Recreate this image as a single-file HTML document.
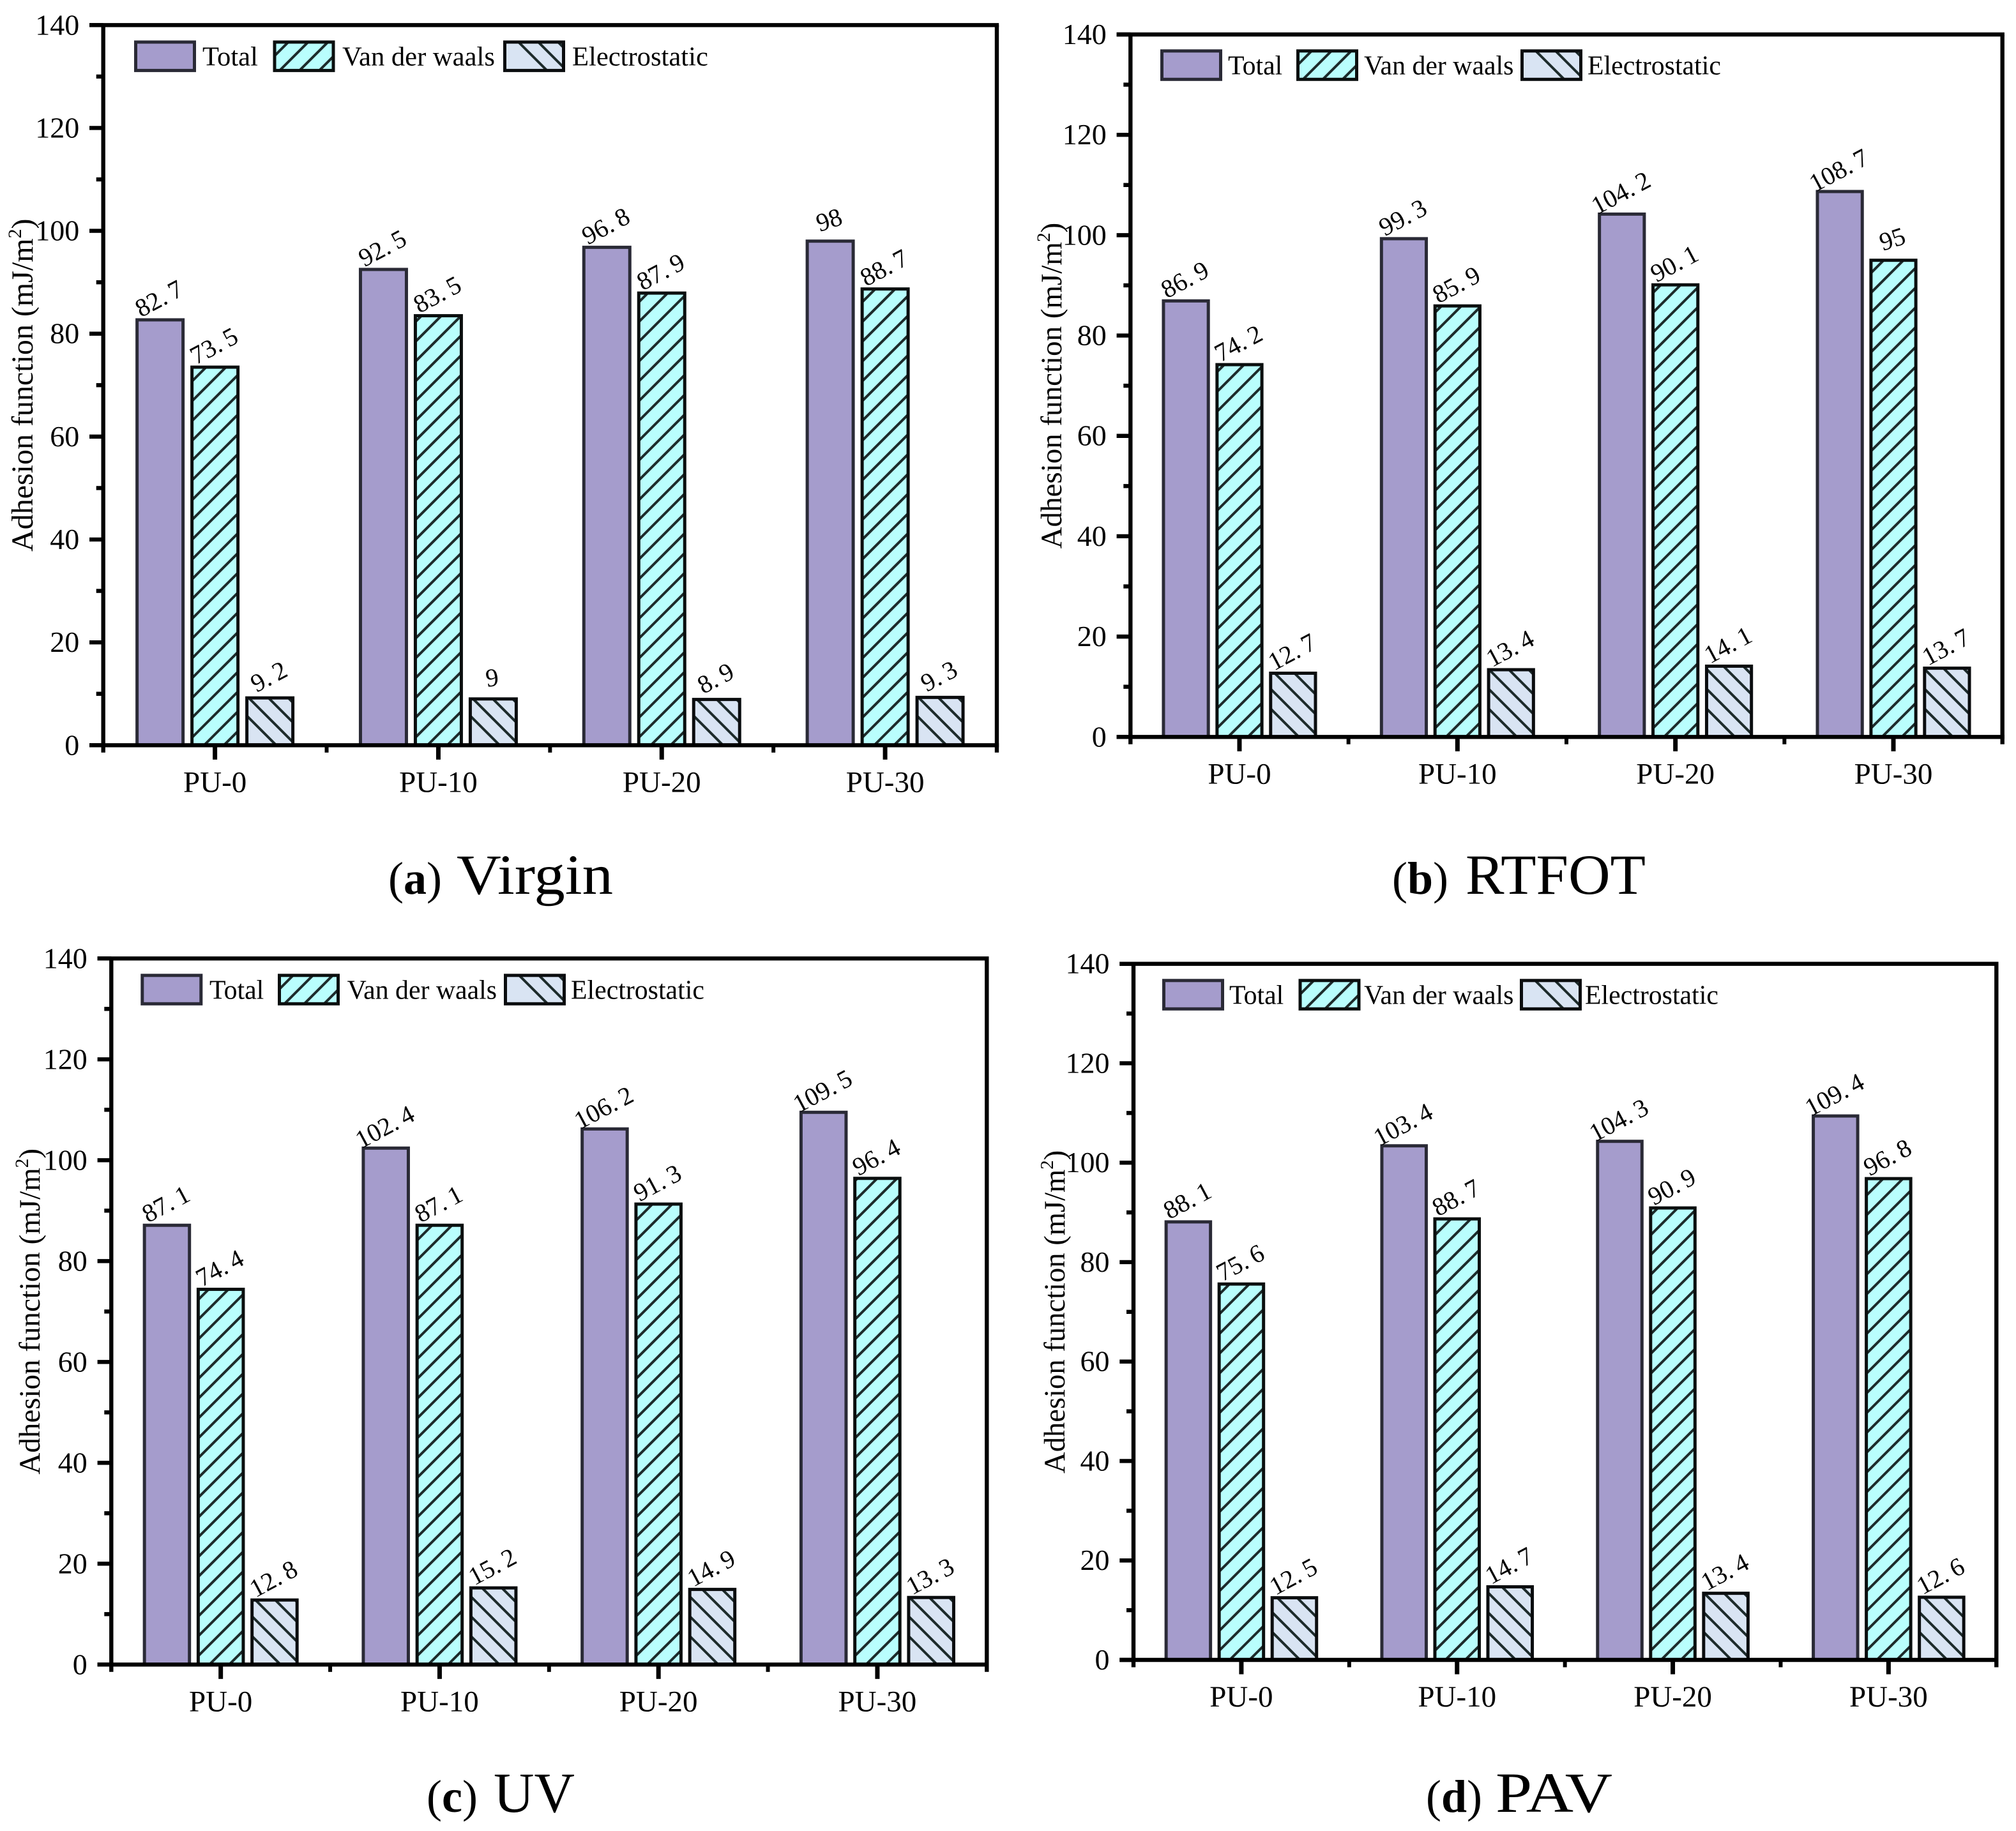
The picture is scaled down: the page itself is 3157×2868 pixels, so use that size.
<!DOCTYPE html>
<html lang="en">
<head>
<meta charset="utf-8">
<title>Adhesion function of PU modified asphalt</title>
<style>
html,body{margin:0;padding:0;background:#fff;}
svg{display:block;}
text{font-family:"Liberation Serif",serif;fill:#000;}
</style>
</head>
<body>
<svg id="figure" xmlns="http://www.w3.org/2000/svg" width="3157" height="2868" viewBox="0 0 3157 2868">
<rect x="0" y="0" width="3157" height="2868" fill="#ffffff"/>
</svg>
<script>
const categories = ["PU-0", "PU-10", "PU-20", "PU-30"];
const seriesNames = ["Total", "Van der waals", "Electrostatic"];
const yMajorTicks = [0, 20, 40, 60, 80, 100, 120, 140];
const yMinorTicks = [10, 30, 50, 70, 90, 110, 130];
const yMax = 140;

const virginTotal = [82.7, 92.5, 96.8, 98];
const virginVdw = [73.5, 83.5, 87.9, 88.7];
const virginElectro = [9.2, 9, 8.9, 9.3];

const rtfotTotal = [86.9, 99.3, 104.2, 108.7];
const rtfotVdw = [74.2, 85.9, 90.1, 95];
const rtfotElectro = [12.7, 13.4, 14.1, 13.7];

const uvTotal = [87.1, 102.4, 106.2, 109.5];
const uvVdw = [74.4, 87.1, 91.3, 96.4];
const uvElectro = [12.8, 15.2, 14.9, 13.3];

const pavTotal = [88.1, 103.4, 104.3, 109.4];
const pavVdw = [75.6, 88.7, 90.9, 96.8];
const pavElectro = [12.5, 14.7, 13.4, 12.6];

const NS = "http://www.w3.org/2000/svg";
const root = document.getElementById("figure");
let clipCounter = 0;

const panels = [
  {key: "virgin", letter: "a", label: "Virgin", total: virginTotal, vdw: virginVdw, electro: virginElectro,
   x0: 161.7, x1: 1561, yTop: 39.3, yBottom: 1167.3,
   swatchX: [210, 427.5, 788], textX: [317, 536, 896], swatchY: 63.4, titleX: 51, titleSize: 48, legendSize: 42.6,
   capX: 608, capLabelX: 715, capLabelW: 245, capY: 1400},
  {key: "rtfot", letter: "b", label: "RTFOT", total: rtfotTotal, vdw: rtfotVdw, electro: rtfotElectro,
   x0: 1770.3, x1: 3135.7, yTop: 54, yBottom: 1154.3,
   swatchX: [1817, 2030, 2381], textX: [1923, 2136, 2486], swatchY: 77.3, titleX: 1662, titleSize: 47, legendSize: 41.8,
   capX: 2180, capLabelX: 2295, capLabelW: 282, capY: 1400},
  {key: "uv", letter: "c", label: "UV", total: uvTotal, vdw: uvVdw, electro: uvElectro,
   x0: 174.3, x1: 1545.3, yTop: 1501.3, yBottom: 2607.3,
   swatchX: [220.3, 435, 789], textX: [328, 543.6, 894], swatchY: 1525.3, titleX: 62, titleSize: 47, legendSize: 41.8,
   capX: 668, capLabelX: 773, capLabelW: 127, capY: 2838},
  {key: "pav", letter: "d", label: "PAV", total: pavTotal, vdw: pavVdw, electro: pavElectro,
   x0: 1775, x1: 3126.3, yTop: 1509.7, yBottom: 2600,
   swatchX: [1820, 2033.5, 2380], textX: [1925, 2136, 2482], swatchY: 1533.3, titleX: 1667, titleSize: 46.6, legendSize: 41.8,
   capX: 2233, capLabelX: 2342, capLabelW: 183, capY: 2838}
];

function svgEl(tag, parent, props) {
  const el = document.createElementNS(NS, tag);
  for (const k in props) el.setAttribute(k, props[k]);
  parent.appendChild(el);
  return el;
}

function hatchLines(group, left, top, right, bottom, kind) {
  const clipId = "hatch-clip-" + (clipCounter++);
  const defs = svgEl("clipPath", group, {id: clipId});
  svgEl("rect", defs, {x: left, y: top, width: right - left, height: bottom - top});
  const lines = svgEl("g", group, {"clip-path": "url(#" + clipId + ")", stroke: "#1d2b2b", "stroke-width": 4, fill: "none"});
  const spacing = 31;
  const steps = Math.ceil(((bottom - top) + (right - left)) / spacing) + 2;
  for (let k = -1; k < steps; k++) {
    if (kind === "vdw") {
      const c = right + bottom - 22 - spacing * k;
      svgEl("line", lines, {x1: left, y1: c - left, x2: right, y2: c - right});
    } else {
      const d = bottom - 5 - spacing * k - right;
      svgEl("line", lines, {x1: left, y1: left + d, x2: right, y2: right + d});
    }
  }
}

const seriesStyle = {
  total: {fill: "#a59ccc", stroke: "#2a2a36"},
  vdw: {fill: "#b9fefd", stroke: "#0b0f0f"},
  electro: {fill: "#d9e4f3", stroke: "#0b0d0f"}
};

function drawBox(group, left, top, right, bottom, kind) {
  const st = seriesStyle[kind];
  svgEl("rect", group, {x: left, y: top, width: right - left, height: bottom - top, fill: st.fill});
  if (kind !== "total") hatchLines(group, left, top, right, bottom, kind);
  svgEl("rect", group, {x: left, y: top, width: right - left, height: bottom - top, fill: "none", stroke: st.stroke, "stroke-width": 5});
}

function drawPanel(p) {
  const g = svgEl("g", root, {});
  
  

  const band = (p.x1 - p.x0) / categories.length;
  const xCenter = i => p.x0 + band * (i + 0.5);
  const yPos = v => p.yBottom - (v / yMax) * (p.yBottom - p.yTop);
  const barWidth = band * 0.2058;
  const barStep = band * 0.2458;

  const seriesList = [
    {kind: "total", values: p.total, off: -1},
    {kind: "vdw", values: p.vdw, off: 0},
    {kind: "electro", values: p.electro, off: 1}
  ];

  seriesList.forEach(s => {
    s.values.forEach((v, i) => {
      const cx = xCenter(i) + s.off * barStep;
      const bar = svgEl("g", g, {});
      
      
      drawBox(bar, cx - barWidth / 2, yPos(v), cx + barWidth / 2, p.yBottom, s.kind);

      const str = String(v);
      const parts = str.split(".");
      const rot = parts.length > 1 ? -28 : (str.length > 1 ? -18 : -8);
      const label = svgEl("text", g, {
        "text-anchor": "middle", "font-size": 40,
        transform: "translate(" + (cx - 2) + " " + (yPos(v) - 34) + ") rotate(" + rot + ")",
        y: 14
      });
      
      
      if (parts.length > 1) {
        label.appendChild(document.createTextNode(parts[0] + "."));
        const frac = svgEl("tspan", label, {dx: 8});
        frac.textContent = parts[1];
      } else {
        label.textContent = str;
      }
    });
  });

  // frame
  const frame = svgEl("g", g, {stroke: "#000", "stroke-width": 6.4, fill: "none"});
  
  
  svgEl("line", frame, {x1: p.x0 - 21.7, y1: p.yTop, x2: p.x1 + 3.2, y2: p.yTop});
  svgEl("line", frame, {x1: p.x0 - 21.7, y1: p.yBottom, x2: p.x1 + 3.2, y2: p.yBottom});
  svgEl("line", frame, {x1: p.x0, y1: p.yTop, x2: p.x0, y2: p.yBottom + 11.5});
  svgEl("line", frame, {x1: p.x1, y1: p.yTop, x2: p.x1, y2: p.yBottom + 11.5});

  // y ticks
  yMajorTicks.forEach(t => {
    const y = yPos(t);
    const tick = svgEl("line", g, {x1: p.x0 - 21.7, y1: y, x2: p.x0, y2: y, stroke: "#000", "stroke-width": 6.4});
    
    
    const lab = svgEl("text", g, {x: p.x0 - 37.5, y: y + 15, "text-anchor": "end", "font-size": 46});
    
    
    lab.textContent = t;
  });
  yMinorTicks.forEach(t => {
    const y = yPos(t);
    const tick = svgEl("line", g, {x1: p.x0 - 11, y1: y, x2: p.x0, y2: y, stroke: "#000", "stroke-width": 6.4});
    
    
  });

  // x ticks and labels
  categories.forEach((c, i) => {
    const x = xCenter(i);
    const tick = svgEl("line", g, {x1: x, y1: p.yBottom, x2: x, y2: p.yBottom + 22.5, stroke: "#000", "stroke-width": 7});
    
    
    if (i > 0) {
      const minor = svgEl("line", g, {x1: p.x0 + band * i, y1: p.yBottom, x2: p.x0 + band * i, y2: p.yBottom + 11.5, stroke: "#000", "stroke-width": 6});
      
      
    }
    const lab = svgEl("text", g, {x: x, y: p.yBottom + 73, "text-anchor": "middle", "font-size": 47});
    
    
    lab.textContent = c;
  });

  // y axis title
  const title = svgEl("text", g, {
    "text-anchor": "middle", "font-size": p.titleSize,
    transform: "translate(" + p.titleX + " " + ((p.yTop + p.yBottom) / 2) + ") rotate(-90)"
  });
  
  
  title.appendChild(document.createTextNode("Adhesion function (mJ/m"));
  const sup = svgEl("tspan", title, {dy: -18, "font-size": p.titleSize * 0.62});
  sup.textContent = "2";
  const close = svgEl("tspan", title, {dy: 18});
  close.textContent = ")";

  // legend
  const legendKinds = ["total", "vdw", "electro"];
  const legend = svgEl("g", g, {});
  
  
  legendKinds.forEach((k, i) => {
    const left = p.swatchX[i] + 2.5;
    const top = p.swatchY + 2.5;
    const sw = svgEl("g", legend, {});
    
    
    drawBox(sw, left, top, left + 92, top + 44.5, k);
    const txt = svgEl("text", legend, {x: p.textX[i], y: p.swatchY + 39, "font-size": p.legendSize});
    
    
    txt.textContent = seriesNames[i];
  });

  // caption
  const cap = svgEl("g", g, {});
  
  
  const capLetter = svgEl("text", cap, {x: p.capX, y: p.capY, "font-size": 72});
  
  
  capLetter.appendChild(document.createTextNode("("));
  const bold = svgEl("tspan", capLetter, {"font-weight": "bold"});
  bold.textContent = p.letter;
  capLetter.appendChild(document.createTextNode(")"));
  const capLabel = svgEl("text", cap, {x: p.capLabelX, y: p.capY, "font-size": 89, textLength: p.capLabelW, lengthAdjust: "spacingAndGlyphs"});
  
  
  capLabel.textContent = p.label;
}

panels.forEach(drawPanel);
</script>
</body>
</html>
